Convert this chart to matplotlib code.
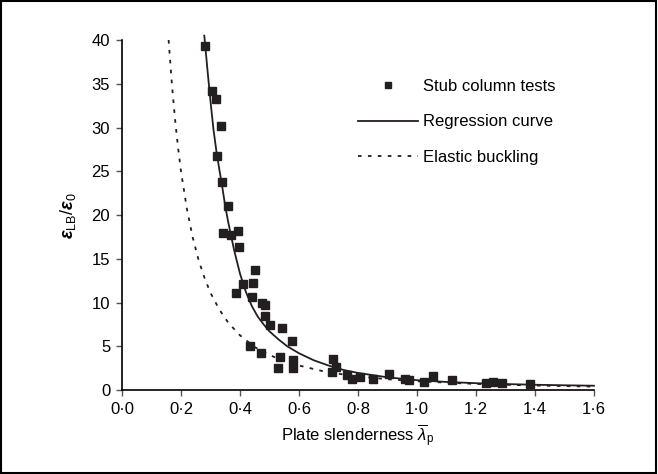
import numpy as np
import matplotlib
matplotlib.use("Agg")
import matplotlib.pyplot as plt
from matplotlib.patches import Rectangle

plt.rcParams['font.family'] = ['Liberation Sans', 'DejaVu Sans']
plt.rcParams['mathtext.fontset'] = 'custom'
plt.rcParams['mathtext.rm'] = 'Liberation Sans'
plt.rcParams['mathtext.it'] = 'Liberation Sans:italic'
plt.rcParams['mathtext.bf'] = 'Liberation Sans:bold:italic'

# stub column test results (slenderness, strain ratio)
test_lam = [0.281, 0.305, 0.319, 0.336, 0.322, 0.339, 0.359, 0.342, 0.369, 0.393,
            0.397, 0.451, 0.410, 0.444, 0.386, 0.441, 0.474, 0.485, 0.485, 0.502,
            0.542, 0.576, 0.434, 0.471, 0.536, 0.529, 0.580, 0.580, 0.715, 0.725,
            0.712, 0.763, 0.780, 0.807, 0.851, 0.905, 0.959, 0.973, 1.024, 1.054,
            1.119, 1.234, 1.258, 1.288, 1.383]
test_eps = [39.3, 34.2, 33.3, 30.2, 26.7, 23.8, 21.0, 17.9, 17.7, 18.2,
            16.3, 13.7, 12.1, 12.2, 11.1, 10.6, 10.0, 9.7, 8.5, 7.4,
            7.1, 5.6, 5.0, 4.2, 3.8, 2.5, 3.4, 2.5, 3.5, 2.6,
            2.1, 1.7, 1.3, 1.5, 1.3, 1.8, 1.3, 1.1, 0.9, 1.6,
            1.2, 0.8, 0.9, 0.8, 0.7]

# regression curve
reg_lam = [0.279, 0.29, 0.30, 0.31, 0.32, 0.33, 0.34, 0.35, 0.36, 0.37, 0.38,
           0.40, 0.42, 0.44, 0.46, 0.48, 0.50, 0.53, 0.56, 0.60, 0.65, 0.70,
           0.75, 0.80, 0.90, 1.00, 1.10, 1.20, 1.30, 1.40, 1.50, 1.60]
reg_eps = [40.5, 36.5, 33.0, 29.8, 27.3, 25.2, 23.2, 21.0, 19.2, 17.6, 16.0,
           13.3, 11.2, 9.6, 8.4, 7.5, 6.7, 5.8, 5.0, 4.2, 3.4, 2.8,
           2.3, 1.95, 1.45, 1.12, 0.92, 0.78, 0.68, 0.60, 0.54, 0.49]

# elastic buckling curve
el_lam = [0.158, 0.17, 0.18, 0.19, 0.20, 0.22, 0.24, 0.26, 0.28, 0.30, 0.33,
          0.36, 0.40, 0.45, 0.50, 0.55, 0.60, 0.70, 0.80, 0.90, 1.00, 1.20,
          1.40, 1.60]
el_eps = [40.0, 34.6, 30.9, 27.7, 25.0, 20.7, 17.4, 14.8, 12.8, 11.1, 9.2,
          7.7, 6.25, 4.9, 4.0, 3.3, 2.8, 2.0, 1.56, 1.23, 1.0, 0.69,
          0.51, 0.39]

x_ticks = [0.0, 0.2, 0.4, 0.6, 0.8, 1.0, 1.2, 1.4, 1.6]
x_labels = ['0·0', '0·2', '0·4', '0·6', '0·8', '1·0', '1·2', '1·4', '1·6']
y_ticks = [0, 5, 10, 15, 20, 25, 30, 35, 40]

fig = plt.figure(figsize=(6.58, 4.74), dpi=100)
ax = fig.add_axes([0.1854, 0.1772, 0.7173, 0.7384])

ax.plot(test_lam, test_eps, 's', color='#231f20', markersize=5.8,
        linestyle='none', label='Stub column tests', zorder=3)
ax.plot(reg_lam, reg_eps, '-', color='#231f20', linewidth=1.3,
        label='Regression curve', clip_on=False)
ax.plot(el_lam, el_eps, color='#231f20', linewidth=1.3,
        linestyle=(0, (2, 3.5)), label='Elastic buckling')

ax.set_xlim(0, 1.6)
ax.set_ylim(0, 40)
ax.set_xticks(x_ticks)
ax.set_xticklabels(x_labels)
ax.set_yticks(y_ticks)
ax.tick_params(labelsize=12, length=4.5, width=1, color='#555555', pad=4)
for s in ['top', 'right']:
    ax.spines[s].set_visible(False)
for s in ['left', 'bottom']:
    ax.spines[s].set_linewidth(1.2)

ax.set_xlabel(r'Plate slenderness $\overline{\lambda}_{\mathrm{p}}$', fontsize=12, labelpad=4)
ax.set_ylabel(r'$\mathbf{ε}_{\mathrm{LB}}/\mathbf{ε}_{\mathrm{0}}$', fontsize=13, labelpad=10)

ax.legend(loc='upper left', bbox_to_anchor=(0.5, 0.89), frameon=False,
          fontsize=12, handlelength=3.6, handletextpad=0.3, labelspacing=1.25,
          borderpad=0, borderaxespad=0, markerscale=0.8)

fig.patches.append(Rectangle((0.002, 0.003), 0.995, 0.994, transform=fig.transFigure,
                             fill=False, edgecolor='black', linewidth=1.5))

fig.savefig('out.png', dpi=100)
